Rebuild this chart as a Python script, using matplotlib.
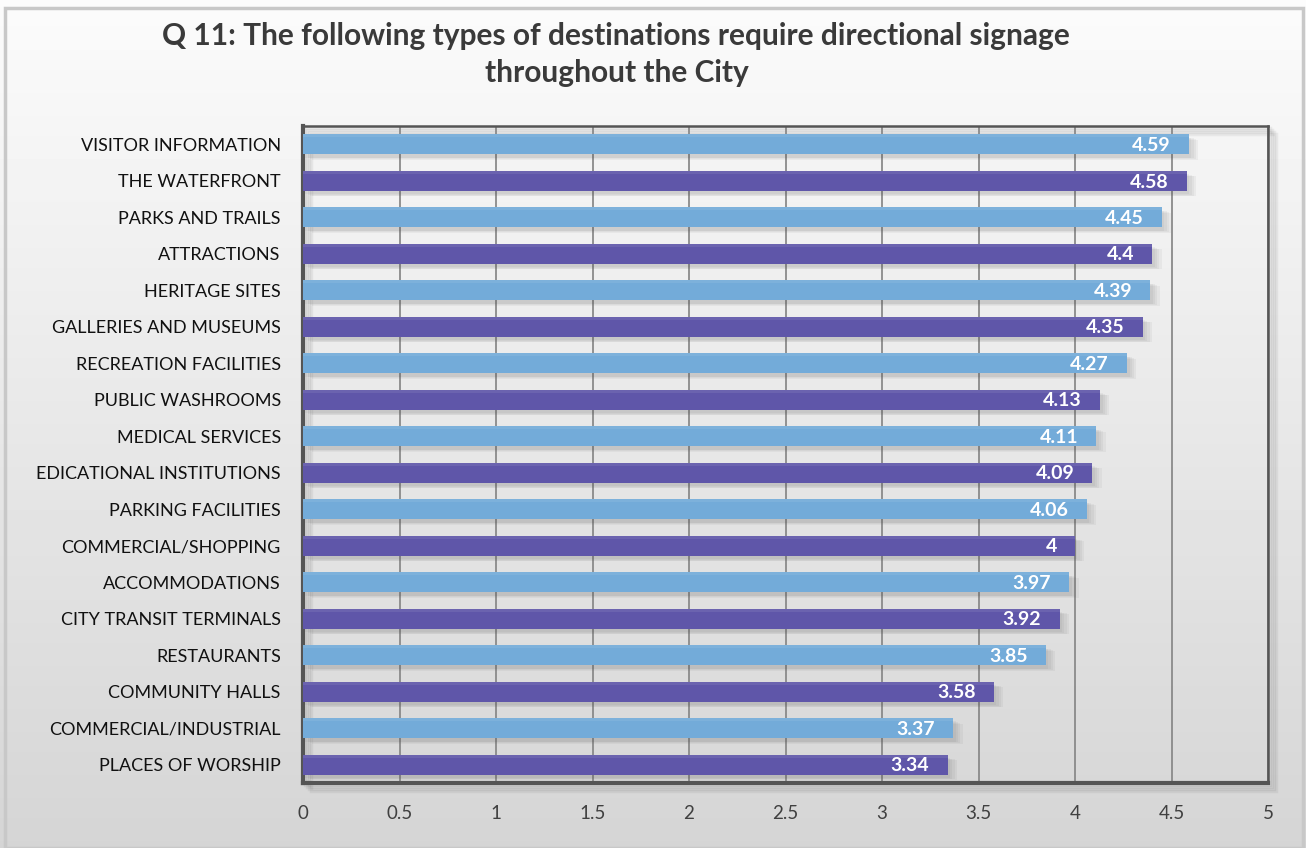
import numpy as np
import matplotlib.pyplot as plt
from matplotlib.patches import Rectangle

# Survey results, top to bottom
categories = [
    'VISITOR INFORMATION', 'THE WATERFRONT', 'PARKS AND TRAILS', 'ATTRACTIONS',
    'HERITAGE SITES', 'GALLERIES AND MUSEUMS', 'RECREATION FACILITIES',
    'PUBLIC WASHROOMS', 'MEDICAL SERVICES', 'EDICATIONAL INSTITUTIONS',
    'PARKING FACILITIES', 'COMMERCIAL/SHOPPING', 'ACCOMMODATIONS',
    'CITY TRANSIT TERMINALS', 'RESTAURANTS', 'COMMUNITY HALLS',
    'COMMERCIAL/INDUSTRIAL', 'PLACES OF WORSHIP',
]
scores = [4.59, 4.58, 4.45, 4.4, 4.39, 4.35, 4.27, 4.13, 4.11, 4.09,
          4.06, 4, 3.97, 3.92, 3.85, 3.58, 3.37, 3.34]
xticks = [0, 0.5, 1, 1.5, 2, 2.5, 3, 3.5, 4, 4.5, 5]

blue = '#73abd9'
purple = '#5f56a9'
font = ['Lato', 'DejaVu Sans']

fig = plt.figure(figsize=(13.06, 8.48), dpi=100)
ax_pos = [0.232, 0.0767, 0.739, 0.7745]

# soft vertical gradient behind everything
bg = fig.add_axes([0, 0, 1, 1], zorder=-10)
grad = np.linspace(0.985, 0.835, 256).reshape(-1, 1)
bg.imshow(grad, cmap='gray', vmin=0, vmax=1, aspect='auto', extent=[0, 1, 0, 1])
bg.add_patch(Rectangle((0.004, 0.0), 0.994, 0.99, fill=False,
                       edgecolor='#c8c8c8', linewidth=2.5))
# shadow under the plot frame
for k in range(4):
    dx = (2 + 2 * k) / 1306
    dy = (2 + 2 * k) / 848
    bg.add_patch(Rectangle((ax_pos[0] + dx, ax_pos[1] - dy), ax_pos[2], ax_pos[3],
                           facecolor='none', edgecolor='#303030',
                           linewidth=2.5, alpha=0.07))
bg.set_xlim(0, 1)
bg.set_ylim(0, 1)
bg.axis('off')

ax = fig.add_axes(ax_pos)
ax.set_facecolor('none')

y = np.arange(len(categories))
colors = [blue if i % 2 == 0 else purple for i in range(len(categories))]
h = 0.55

# blurred drop shadow
for k in range(4):
    off = 0.012 + k * 0.012
    ax.barh(y + 0.09 + k * 0.02, scores, height=h, left=off,
            color='#505050', alpha=0.06, zorder=2, linewidth=0)

ax.barh(y, scores, height=h, color=colors, zorder=3, linewidth=0)
ax.barh(y - h / 2 + 0.04, scores, height=0.08, color='white', alpha=0.08,
        zorder=4, linewidth=0)

for yi, v in zip(y, scores):
    ax.text(v - 0.095, yi + 0.03, f'{v:g}', ha='right', va='center',
            color='white', fontsize=14, fontweight='bold',
            family=font, zorder=5)

ax.set_xlim(0, 5)
ax.set_ylim(len(categories) - 0.5, -0.5)
ax.set_xticks(xticks)
ax.set_xticklabels([f'{t:g}' for t in xticks], family=font, fontsize=13.5,
                   color='#404040')
ax.set_yticks(y)
ax.set_yticklabels(categories, family=font, fontsize=13, color='#111111')
ax.tick_params(length=0, pad=16)
ax.tick_params(axis='x', pad=16)
ax.xaxis.grid(True, color='#8a8a8a', linewidth=1.3, zorder=1)
ax.set_axisbelow(True)
for s in ax.spines.values():
    s.set_color('#555555')
    s.set_linewidth(1.8)
ax.spines['left'].set_linewidth(3)
ax.spines['bottom'].set_linewidth(3)

fig.text(0.472, 0.958, 'Q 11: The following types of destinations require directional signage',
         ha='center', va='center', fontsize=21.5, fontweight='bold',
         family=font, color='#3a3a3a')
fig.text(0.472, 0.914, 'throughout the City', ha='center', va='center',
         fontsize=21.5, fontweight='bold', family=font, color='#3a3a3a')

fig.savefig('out.png', dpi=100)
